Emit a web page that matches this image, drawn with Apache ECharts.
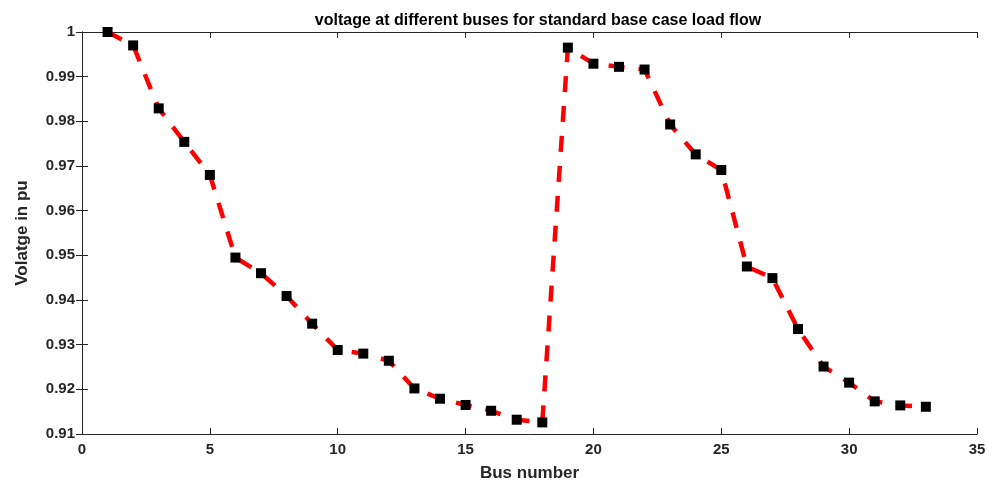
<!DOCTYPE html>
<html><head><meta charset="utf-8">
<script src="https://cdn.jsdelivr.net/npm/echarts@6/dist/echarts.min.js"></script>
<style>html,body{margin:0;padding:0;background:#fff}#c{width:997px;height:483px}</style>
</head><body><div id="c"></div>
<script>
const busNumbers = [1,2,3,4,5,6,7,8,9,10,11,12,13,14,15,16,17,18,19,20,21,22,23,24,25,26,27,28,29,30,31,32,33];
const voltages = [1.0000,0.9970,0.9829,0.9754,0.9680,0.9495,0.9460,0.9409,0.9347,0.9288,0.9280,0.9264,0.9202,0.9179,0.9165,0.9152,0.9132,0.9126,0.9965,0.9929,0.9922,0.9916,0.9793,0.9726,0.9691,0.9475,0.9449,0.9335,0.9251,0.9215,0.9173,0.9164,0.9161];
const xTicks = [0,5,10,15,20,25,30,35];
const yTicks = [0.91,0.92,0.93,0.94,0.95,0.96,0.97,0.98,0.99,1];
const titleText = 'voltage at different buses for standard base case load flow';
const xName = 'Bus number';
const yName = 'Volatge in pu';

const axisColor = '#262626';
const font = 'Liberation Sans, Arial, Helvetica, sans-serif';
const chart = echarts.init(document.getElementById('c'));
const commonAxis = {
  axisLine: {show: true, lineStyle: {color: axisColor, width: 1}},
  axisTick: {show: true, inside: true, length: 6, lineStyle: {color: axisColor}},
  splitLine: {show: false}
};
const points = busNumbers.map((b,i) => [b, voltages[i]]);
chart.setOption({
  animation: false,
  title: {text: titleText, left: 533, top: 8, textAlign: 'center',
    textStyle: {fontFamily: font, fontWeight: 'bold', fontSize: 16, color: '#000'}},
  grid: {left: 82, right: 20, top: 32, bottom: 49, containLabel: false, outerBoundsMode: 'none'},
  xAxis: [
    Object.assign({type: 'value', min: xTicks[0], max: xTicks[xTicks.length-1], interval: 5,
      name: xName, nameLocation: 'middle', nameGap: 31,
      nameTextStyle: {fontFamily: font, fontWeight: 'bold', fontSize: 17, color: '#262626'},
      axisLabel: {fontFamily: font, fontWeight: 'bold', fontSize: 15, color: '#262626', margin: 8}}, commonAxis),
    Object.assign({type: 'value', position: 'top', min: xTicks[0], max: xTicks[xTicks.length-1], interval: 5,
      axisLabel: {show: false}}, commonAxis)
  ],
  yAxis: [
    Object.assign({type: 'value', min: yTicks[0], max: yTicks[yTicks.length-1], interval: 0.01,
      name: yName, nameLocation: 'middle', nameGap: 51,
      nameTextStyle: {fontFamily: font, fontWeight: 'bold', fontSize: 17, color: '#262626'},
      axisLabel: {fontFamily: font, fontWeight: 'bold', fontSize: 15, color: '#262626', margin: 7,
        formatter: v => String(Math.round(v*100)/100)}}, commonAxis),
    Object.assign({type: 'value', position: 'right', min: yTicks[0], max: yTicks[yTicks.length-1], interval: 0.01,
      axisLabel: {show: false}}, commonAxis)
  ],
  series: [{
    type: 'line',
    data: points,
    z: 2,
    lineStyle: {color: '#ff0000', width: 4.5, type: [16, 14]},
    symbol: 'none',
    emphasis: {disabled: true}
  }, {
    type: 'scatter',
    data: points,
    z: 5,
    symbol: 'rect', symbolSize: 10,
    itemStyle: {color: '#000', borderWidth: 0, opacity: 1},
    emphasis: {disabled: true}
  }]
});
</script></body></html>
